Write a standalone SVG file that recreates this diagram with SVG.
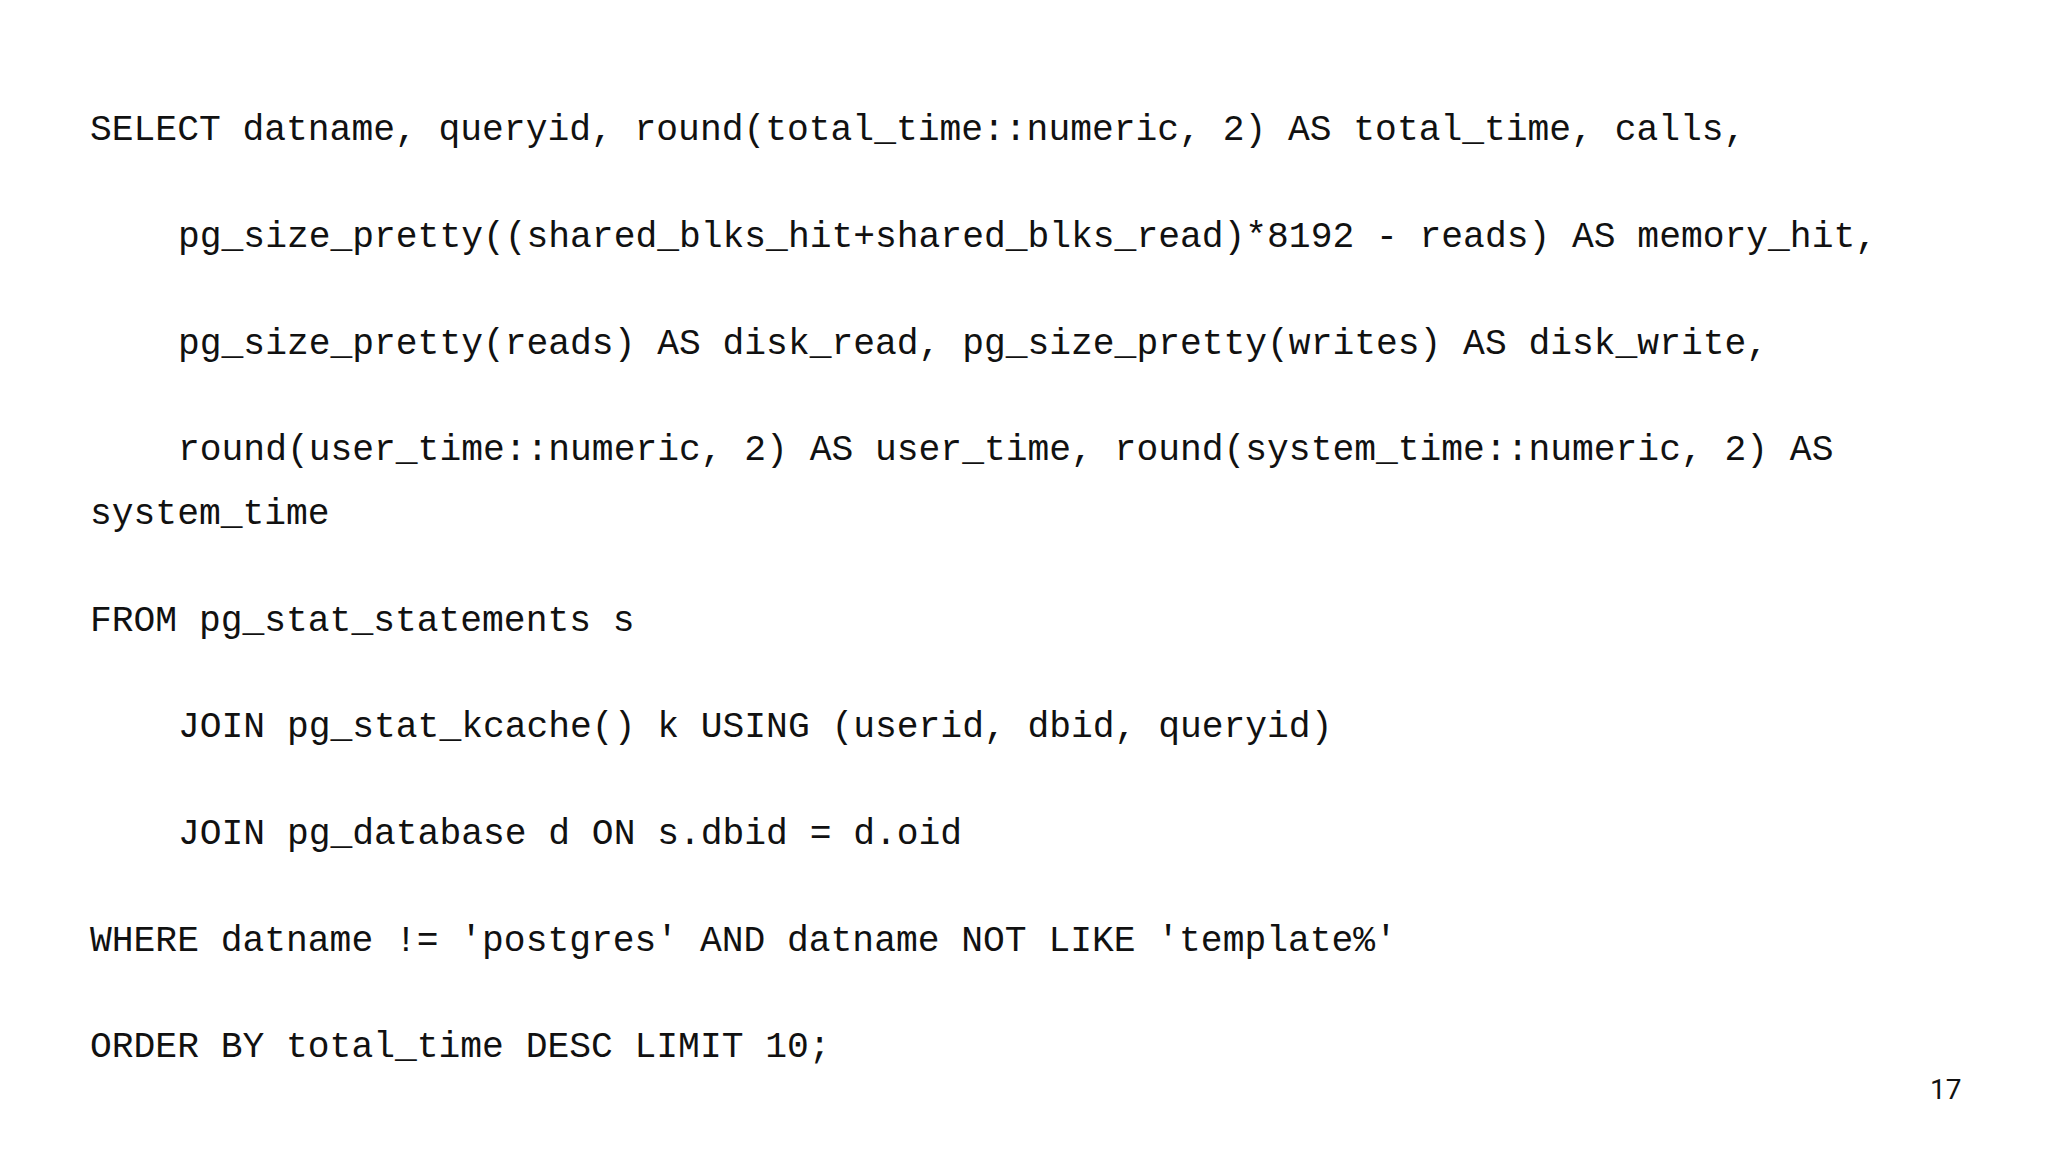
<svg xmlns="http://www.w3.org/2000/svg" width="2048" height="1152" viewBox="0 0 2048 1152">
<style>
.c{font-family:"Liberation Mono","DejaVu Sans Mono",monospace;font-size:36.3px;fill:#111;white-space:pre}
.p{font-family:"Roboto","Liberation Sans",sans-serif;font-size:28px;fill:#111}
</style>
<rect width="2048" height="1152" fill="#fff"/>
<g id="code">
<text class="c" x="90" y="140">SELECT datname, queryid, round(total_time::numeric, 2) AS total_time, calls,</text>
<text class="c" x="178" y="247">pg_size_pretty((shared_blks_hit+shared_blks_read)*8192 - reads) AS memory_hit,</text>
<text class="c" x="178" y="354">pg_size_pretty(reads) AS disk_read, pg_size_pretty(writes) AS disk_write,</text>
<text class="c" x="178" y="460">round(user_time::numeric, 2) AS user_time, round(system_time::numeric, 2) AS</text>
<text class="c" x="90" y="524">system_time</text>
<text class="c" x="90" y="631">FROM pg_stat_statements s</text>
<text class="c" x="178" y="737">JOIN pg_stat_kcache() k USING (userid, dbid, queryid)</text>
<text class="c" x="178" y="844">JOIN pg_database d ON s.dbid = d.oid</text>
<text class="c" x="90" y="951">WHERE datname != 'postgres' AND datname NOT LIKE 'template%'</text>
<text class="c" x="90" y="1057">ORDER BY total_time DESC LIMIT 10;</text>
</g>
<text class="p" x="1930" y="1099">17</text>
</svg>
